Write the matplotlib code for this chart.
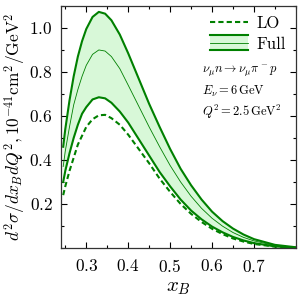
import numpy as np
import matplotlib
matplotlib.use("Agg")
import matplotlib.pyplot as plt
from matplotlib.patches import Rectangle
from matplotlib.lines import Line2D
from matplotlib.legend_handler import HandlerBase
from matplotlib.ticker import MultipleLocator, FormatStrFormatter

plt.rcParams['font.family'] = 'serif'
plt.rcParams['font.serif'] = ['cmr10', 'DejaVu Serif']
plt.rcParams['mathtext.fontset'] = 'cm'
plt.rcParams['axes.formatter.use_mathtext'] = True

# values
x_b = [0.245, 0.25, 0.26, 0.27, 0.28, 0.29, 0.30, 0.315, 0.33, 0.345, 0.36, 0.38,
       0.40, 0.425, 0.45, 0.475, 0.50, 0.525, 0.55, 0.575, 0.60, 0.625, 0.65, 0.675,
       0.70, 0.75, 0.80]
full_upper = [0.46, 0.54, 0.67, 0.78, 0.87, 0.94, 0.995, 1.05, 1.073, 1.065, 1.035, 0.97,
              0.885, 0.77, 0.655, 0.55, 0.45, 0.36, 0.285, 0.22, 0.165, 0.122, 0.088, 0.061,
              0.04, 0.014, 0.003]
full_mid = [0.37, 0.44, 0.55, 0.65, 0.72, 0.78, 0.83, 0.88, 0.90, 0.895, 0.87, 0.815,
            0.74, 0.645, 0.55, 0.46, 0.375, 0.30, 0.235, 0.18, 0.135, 0.099, 0.07, 0.048,
            0.032, 0.011, 0.002]
full_lower = [0.30, 0.35, 0.43, 0.50, 0.56, 0.61, 0.64, 0.675, 0.685, 0.68, 0.66, 0.62,
              0.57, 0.495, 0.42, 0.345, 0.28, 0.22, 0.17, 0.13, 0.097, 0.071, 0.05, 0.034,
              0.022, 0.007, 0.001]
lo = [0.24, 0.28, 0.35, 0.41, 0.47, 0.51, 0.55, 0.585, 0.603, 0.605, 0.59, 0.56,
      0.515, 0.45, 0.385, 0.315, 0.255, 0.20, 0.155, 0.118, 0.087, 0.063, 0.043, 0.029,
      0.018, 0.006, 0.001]

green = '#008000'
fill_c = '#d8f8d8'


class FullHandler(HandlerBase):
    # legend key: shaded band with two thick edges and a thin centre line
    def create_artists(self, legend, orig, xd, yd, w, h, fs, trans):
        r = Rectangle((xd, yd - 0.15 * h), w, 1.3 * h, facecolor=fill_c, edgecolor='none', transform=trans)
        l1 = Line2D([xd, xd + w], [yd + 1.15 * h] * 2, color=green, lw=1.5, transform=trans)
        l2 = Line2D([xd, xd + w], [yd + 0.5 * h] * 2, color=green, lw=0.6, transform=trans)
        l3 = Line2D([xd, xd + w], [yd - 0.15 * h] * 2, color=green, lw=1.5, transform=trans)
        return [r, l1, l2, l3]


fig = plt.figure(figsize=(2.98, 2.98), dpi=100)
ax = fig.add_axes([0.205, 0.168, 0.788, 0.812])

ax.fill_between(x_b, full_lower, full_upper, color=fill_c, lw=0)
ax.plot(x_b, full_upper, color=green, lw=1.5)
ax.plot(x_b, full_mid, color=green, lw=0.6)
ax.plot(x_b, full_lower, color=green, lw=1.5)
lo_line, = ax.plot(x_b, lo, color=green, lw=1.5, ls=(0, (2.5, 1.5)))

ax.set_xlim(0.24, 0.8)
ax.set_ylim(0.0, 1.1)
ax.xaxis.set_minor_locator(MultipleLocator(0.05))
ax.yaxis.set_minor_locator(MultipleLocator(0.1))
ax.set_xticks([0.3, 0.4, 0.5, 0.6, 0.7])
ax.set_yticks([0.2, 0.4, 0.6, 0.8, 1.0])
ax.xaxis.set_major_formatter(FormatStrFormatter('$%.1f$'))
ax.yaxis.set_major_formatter(FormatStrFormatter('$%.1f$'))
ax.tick_params(which='both', direction='in', top=True, right=True, labelsize=12.5, width=0.8)
ax.tick_params(axis='x', pad=7)
ax.tick_params(axis='y', pad=6)
ax.tick_params(which='major', length=4)
ax.tick_params(which='minor', length=2.5)
for s in ax.spines.values():
    s.set_linewidth(0.9)
    s.set_color('#333333')

ax.set_xlabel('$x_B$', fontsize=15, labelpad=3)
ax.set_ylabel(r'$d^2\sigma/dx_BdQ^2,10^{-41}\mathrm{cm}^2/\mathrm{GeV}^2$', fontsize=12.5, labelpad=1)

full_dummy = Rectangle((0, 0), 1, 1)
ax.legend([lo_line, full_dummy], ['LO', 'Full'], handler_map={Rectangle: FullHandler()},
          loc='upper right', frameon=False, fontsize=12, handlelength=2.3,
          handletextpad=0.5, borderaxespad=0.2, labelspacing=0.3)

ax.text(0.60, 0.73, r'$\nu_\mu n \to \nu_\mu \pi^- p$', transform=ax.transAxes, fontsize=9, va='center')
ax.text(0.60, 0.645, r'$E_\nu = 6\,\mathrm{GeV}$', transform=ax.transAxes, fontsize=9, va='center')
ax.text(0.60, 0.56, r'$Q^2 = 2.5\,\mathrm{GeV}^2$', transform=ax.transAxes, fontsize=9, va='center')

fig.savefig('out.png', dpi=100)
